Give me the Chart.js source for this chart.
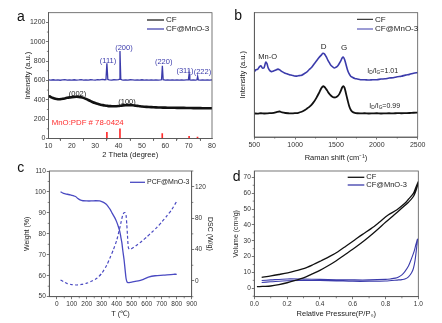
<!DOCTYPE html>
<html>
<head>
<meta charset="utf-8">
<title>CF / CF@MnO-3</title>
<script src="https://cdn.jsdelivr.net/npm/chart.js@4.4.1/dist/chart.umd.min.js"></script>
<style>
  html, body { margin: 0; padding: 0; background: #fff; }
  canvas { position: absolute; left: 0; top: 0; }
</style>
</head>
<body>
<canvas id="xrd" width="442" height="323"></canvas>
<canvas id="raman" width="442" height="323"></canvas>
<canvas id="tga" width="442" height="323"></canvas>
<canvas id="bet" width="442" height="323"></canvas>
<script>
// ---- (a) XRD ----
var xrdMnO = [[10,606],[11,603],[12,607],[13,604],[14,606],[15,602],[16,605],[17,608],[18,603],[19,606],[20,604],[21,607],[22,603],[23,605],[24,608],[25,604],[26,606],[27,603],[28,607],[29,605],[30,604],[31,608],[32,606],[33,610],[34,607],[34.6,609],[35.0,776],[35.4,610],[36,606],[37,604],[38,607],[39,605],[40,608],[40.25,612],[40.6,903],[40.95,612],[41.5,607],[42,604],[43,606],[44,603],[45,607],[46,605],[47,603],[48,606],[49,604],[50,607],[51,603],[52,605],[53,604],[54,606],[55,603],[56,605],[57,604],[58,606],[58.4,608],[58.75,752],[59.1,608],[60,604],[61,606],[62,603],[63,605],[64,604],[65,606],[66,603],[67,605],[68,604],[69,606],[69.9,607],[70.2,668],[70.5,606],[71,604],[72,606],[73,604],[73.55,607],[73.85,642],[74.15,606],[75,603],[76,605],[77,604],[78,606],[79,603],[80,605]];
var xrdCF = [[10,432],[10.5,436],[11,428],[11.5,422],[12,418],[12.5,414],[13,410],[13.5,408],[14,406],[14.5,405],[15,406],[15.5,408],[16,410],[17,414],[18,420],[19,425],[20,428],[21,430],[22,431],[23,430],[24,427],[25,420],[26,410],[27,398],[28,386],[29,375],[30,366],[31,358],[32,351],[33,346],[34,341],[35,338],[36,335],[37,334],[38,333],[39,334],[40,336],[41,339],[42,342],[43,344],[44,345],[45,345],[46,343],[47,340],[48,337],[49,334],[50,331],[52,327],[54,324],[56,322],[58,320],[60,319],[62,318],[64,317],[66,316],[68,316],[70,315],[72,314],[74,314],[76,313],[78,313],[80,312]];
var pdfLines = [[35.0,65],[40.6,100],[58.7,52],[70.2,22],[73.8,15]];
var xrdXTicks = [10,20,30,40,50,60,70,80];
var xrdYTicks = [0,200,400,600,800,1000,1200];
var xrdXMinor = [15,25,35,45,55,65,75];
var xrdYMinor = [100,300,500,700,900,1100];

// ---- (b) Raman ----
var ramanMnO = [[500,52.5],[520,54.1],[540,54.4],[560,56.2],[580,57.3],[600,55.4],[620,55.9],[640,60.2],[655,59.0],[670,55.6],[690,53.4],[710,52.6],[730,52.9],[760,53.7],[790,54.6],[810,54.0],[840,52.6],[870,51.5],[900,50.9],[930,50.1],[960,49.7],[990,49.1],[1020,49.0],[1050,49.4],[1080,49.7],[1110,50.9],[1140,52.1],[1170,54.1],[1200,55.9],[1230,58.6],[1260,61.1],[1290,63.7],[1320,65.9],[1340,67.3],[1360,66.7],[1380,64.6],[1400,61.9],[1420,59.6],[1440,57.5],[1460,56.4],[1480,55.5],[1500,56.1],[1520,57.1],[1540,59.1],[1560,61.4],[1575,63.6],[1590,64.3],[1605,62.4],[1620,58.9],[1640,54.1],[1660,50.9],[1680,48.9],[1700,48.1],[1730,47.1],[1760,46.7],[1800,46.1],[1850,46.1],[1900,45.8],[1950,46.1],[2000,46.1],[2050,46.6],[2100,46.8],[2150,47.4],[2200,47.7],[2250,48.5],[2300,48.9],[2350,49.8],[2400,50.4],[2450,51.3],[2500,51.8]];
var ramanCF = [[500,19.0],[540,18.8],[580,19.1],[620,18.9],[660,19.0],[700,19.2],[740,19.4],[780,20.2],[810,20.5],[840,19.8],[880,19.3],[920,19.1],[960,19.0],[1000,19.2],[1040,19.5],[1080,20.3],[1110,21.3],[1140,22.6],[1170,24.0],[1200,25.8],[1230,28.3],[1260,31.5],[1290,35.2],[1320,39.2],[1340,40.8],[1360,40.2],[1380,38.5],[1400,36.5],[1420,34.6],[1440,33.2],[1460,32.2],[1480,31.8],[1500,32.0],[1520,32.9],[1540,34.5],[1560,37.3],[1575,39.8],[1590,41.0],[1605,39.5],[1620,35.6],[1640,30.2],[1660,25.2],[1680,21.9],[1700,20.3],[1730,19.4],[1760,19.1],[1800,19.0],[1850,19.1],[1900,18.9],[1950,19.0],[2000,19.1],[2050,18.9],[2100,19.0],[2150,19.1],[2200,19.0],[2250,19.2],[2300,19.1],[2350,19.2],[2400,19.3],[2450,19.5],[2500,19.6]];
var ramanXTicks = [500,1000,1500,2000,2500];
var ramanXMinor = [750,1250,1750,2250];

// ---- (c) TGA / DSC ----
var tgaWeight = [[25,100.1],[45,99.3],[70,98.9],[90,98.6],[110,98.2],[125,97.8],[140,96.9],[155,96.2],[175,95.8],[200,95.7],[230,95.7],[260,95.8],[285,95.7],[300,95.4],[315,94.9],[330,94.1],[345,92.8],[356,91.7],[370,89.8],[389,87.4],[400,85.6],[411,83.4],[420,81.2],[427,78.6],[434,75.8],[440,72.3],[449,67.5],[456,62.7],[462,58.8],[468,57.1],[475,56.7],[500,57.0],[544,57.5],[578,58.3],[611,59.3],[656,60.0],[711,60.3],[778,60.7],[800,60.7]];
var tgaDsc = [[25,1.3],[45,-0.8],[67,-3.0],[100,-4.6],[133,-5.1],[165,-4.3],[200,-2.8],[235,0],[267,3.4],[300,9.8],[333,20],[356,30],[378,40],[400,52],[422,69],[440,84],[449,87],[456,87],[462,84],[467,72],[471,60],[478,42],[489,40.3],[510,42.5],[533,45.5],[567,50.5],[600,56],[634,62],[667,68],[700,75],[733,82.5],[767,91],[800,101.5]];
var tgaXTicks = [0,100,200,300,400,500,600,700,800,900];
var weightTicks = [50,60,70,80,90,100,110];
var dscTicks = [0,40,80,120];
var tgaXMinor = [50,150,250,350,450,550,650,750,850];
var weightMinor = [55,65,75,85,95,105];
var dscMinor = [-20,20,60,100,140];

// ---- (d) N2 isotherms ----
var betCF = [[0.016,1.0],[0.05,1.2],[0.1,1.45],[0.15,2.3],[0.2,3.5],[0.25,5.0],[0.3,6.6],[0.35,8.9],[0.4,11.3],[0.45,14.2],[0.5,17.4],[0.55,21.0],[0.6,24.6],[0.65,28.4],[0.7,32.5],[0.75,36.9],[0.8,41.6],[0.85,46.1],[0.9,50.6],[0.94,54.3],[0.97,57.9],[0.99,63.0],[1.0,67.2],
             [0.985,63.6],[0.97,59.9],[0.94,56.2],[0.918,53.6],[0.87,49.6],[0.816,46.2],[0.76,41.5],[0.714,37.8],[0.66,34.0],[0.612,30.5],[0.56,26.7],[0.51,23.1],[0.46,20.1],[0.408,17.4],[0.36,15.0],[0.306,12.6],[0.25,11.0],[0.204,9.8],[0.15,8.7],[0.102,7.8],[0.045,6.9]];
var betMnO = [[0.045,3.7],[0.1,4.1],[0.2,4.8],[0.3,4.9],[0.4,4.9],[0.5,4.7],[0.6,4.4],[0.7,4.4],[0.8,4.6],[0.88,5.3],[0.9,5.5],[0.918,5.8],[0.94,7.2],[0.959,9.8],[0.97,12.5],[0.98,17.5],[0.988,24],[0.995,31],
              [0.985,27.5],[0.975,23.5],[0.959,18.9],[0.94,14.0],[0.918,10.5],[0.9,8.5],[0.88,7.2],[0.86,6.4],[0.83,5.9],[0.8,5.6],[0.7,5.3],[0.6,5.3],[0.5,5.4],[0.4,5.6],[0.3,5.8],[0.2,5.9],[0.1,5.3],[0.045,4.9]];
var betXTicks = [0,0.2,0.4,0.6,0.8,1.0];
var betYTicks = [0,10,20,30,40,50,60,70];
var betXMinor = [0.1,0.3,0.5,0.7,0.9];
var betYMinor = [-5,5,15,25,35,45,55,65];

var FONT = '"Liberation Sans", Arial, sans-serif';
var AXIS = '#555';
var TEXT = '#333';
var BLUE = '#3b3bab';
var BLUE_C = '#4a4ac2';
var BLACK = '#111';
var RED = '#ff2b2b';

Chart.defaults.font.family = FONT;
Chart.defaults.color = TEXT;

function pts(arr) { return arr.map(function (p) { return { x: p[0], y: p[1] }; }); }

// box around the plot area (top and right edges included)
var framePlugin = {
  id: 'frame',
  afterDatasetsDraw: function (chart) {
    var a = chart.chartArea, ctx = chart.ctx;
    ctx.save();
    ctx.strokeStyle = AXIS;
    ctx.lineWidth = 0.8;
    ctx.strokeRect(a.left, a.top, a.right - a.left, a.bottom - a.top);
    ctx.restore();
  }
};

// short unlabelled ticks between the major ones
var minorPlugin = {
  id: 'minor',
  afterDraw: function (chart, args, opts) {
    var ctx = chart.ctx;
    ctx.save();
    ctx.strokeStyle = AXIS;
    ctx.lineWidth = 0.7;
    (opts.list || []).forEach(function (m) {
      var s = chart.scales[m.axis];
      m.values.forEach(function (v) {
        var p = s.getPixelForValue(v);
        ctx.beginPath();
        if (s.position === 'bottom') { ctx.moveTo(p, s.top); ctx.lineTo(p, s.top + 1.6); }
        else if (s.position === 'left') { ctx.moveTo(s.right, p); ctx.lineTo(s.right - 1.6, p); }
        else { ctx.moveTo(s.left, p); ctx.lineTo(s.left + 1.6, p); }
        ctx.stroke();
      });
    });
    ctx.restore();
  }
};

// text labels placed in data coordinates; parts allow sub/superscripts
var notesPlugin = {
  id: 'notes',
  afterDatasetsDraw: function (chart, args, opts) {
    var ctx = chart.ctx;
    (opts.items || []).forEach(function (n) {
      var xs = chart.scales[n.xAxis || 'x'], ys = chart.scales[n.yAxis || 'y'];
      var px = xs.getPixelForValue(n.x), py = ys.getPixelForValue(n.y);
      var parts = n.parts || [{ t: n.text }];
      ctx.save();
      ctx.fillStyle = n.color || '#222';
      ctx.textBaseline = 'middle';
      var w = 0;
      parts.forEach(function (p) {
        ctx.font = (p.size || n.size) + 'px ' + FONT;
        w += ctx.measureText(p.t).width;
      });
      var x = n.align === 'left' ? px : px - w / 2;
      parts.forEach(function (p) {
        ctx.font = (p.size || n.size) + 'px ' + FONT;
        ctx.fillText(p.t, x, py + (p.dy || 0));
        x += ctx.measureText(p.t).width;
      });
      ctx.restore();
    });
  }
};

// line-sample legend
var keyPlugin = {
  id: 'key',
  afterDraw: function (chart, args, opts) {
    if (opts.x === undefined) return;
    var ctx = chart.ctx, y = opts.y;
    chart.data.datasets.forEach(function (ds) {
      if (!ds.label) return;
      ctx.save();
      ctx.strokeStyle = ds.borderColor;
      ctx.lineWidth = opts.lineWidth || 1.2;
      ctx.beginPath();
      ctx.moveTo(opts.x, y);
      ctx.lineTo(opts.x + opts.len, y);
      ctx.stroke();
      ctx.fillStyle = '#222';
      ctx.font = opts.size + 'px ' + FONT;
      ctx.textBaseline = 'middle';
      ctx.fillText(ds.label, opts.x + opts.len + 2, y);
      ctx.restore();
      y += opts.step;
    });
  }
};

// panel letter
var tagPlugin = {
  id: 'tag',
  afterDraw: function (chart, args, opts) {
    if (!opts.text) return;
    var ctx = chart.ctx;
    ctx.save();
    ctx.fillStyle = '#111';
    ctx.font = '14px ' + FONT;
    ctx.textBaseline = 'alphabetic';
    ctx.fillText(opts.text, opts.x, opts.y);
    ctx.restore();
  }
};

function axis(o) {
  return {
    type: 'linear',
    position: o.position,
    min: o.min,
    max: o.max,
    offset: false,
    afterFit: function (s) {
      if (s.isHorizontal()) s.height = o.size; else s.width = o.size;
    },
    afterBuildTicks: function (s) {
      s.ticks = o.ticks.map(function (v) { return { value: v }; });
    },
    border: { color: AXIS, width: 0.8 },
    grid: { display: o.ticks.length > 0, drawOnChartArea: false, tickLength: 2.5, color: AXIS, lineWidth: 0.8 },
    ticks: {
      display: o.ticks.length > 0,
      font: { size: o.font },
      color: TEXT,
      padding: o.pad,
      maxRotation: 0,
      autoSkip: false,
      callback: o.fmt || function (v) { return String(v); }
    },
    title: {
      display: true,
      text: o.title,
      font: { size: o.titleSize || 7.5 },
      color: '#222',
      padding: o.titlePad
    }
  };
}

function base(pad, scales, plugins) {
  return {
    responsive: false,
    animation: false,
    events: [],
    layout: { padding: pad },
    scales: scales,
    plugins: Object.assign({ legend: { display: false }, tooltip: { enabled: false } }, plugins)
  };
}

var plugs = [framePlugin, minorPlugin, notesPlugin, keyPlugin, tagPlugin];

// (a) XRD patterns
new Chart(document.getElementById('xrd'), {
  type: 'scatter',
  data: {
    datasets: [
      { label: 'CF', data: pts(xrdCF), showLine: true, borderColor: BLACK, borderWidth: 2.6, pointRadius: 0, tension: 0.2 },
      { label: 'CF@MnO-3', data: pts(xrdMnO), showLine: true, borderColor: BLUE, borderWidth: 1.3, pointRadius: 0, tension: 0 },
      { type: 'bar', data: pts(pdfLines), backgroundColor: RED, barThickness: 1 }
    ]
  },
  options: base({ left: 0, top: 12.7, right: 230, bottom: 163 }, {
    x: axis({ position: 'bottom', min: 10, max: 80, ticks: xrdXTicks, size: 21.5, font: 7, pad: 1, title: '2 Theta (degree)', titlePad: { top: 0, bottom: 0.5 } }),
    y: axis({ position: 'left', min: 0, max: 1300, ticks: xrdYTicks, size: 48.5, font: 7, pad: 0.5, title: 'Intensity (a.u.)', titlePad: { top: 23.5, bottom: 0 } })
  }, {
    minor: { list: [{ axis: 'x', values: xrdXMinor }, { axis: 'y', values: xrdYMinor }] },
    notes: { items: [
      { text: '(111)', x: 35.5, y: 805, size: 7.5, color: BLUE },
      { text: '(200)', x: 42.3, y: 935, size: 7.5, color: BLUE },
      { text: '(220)', x: 59.3, y: 795, size: 7.5, color: BLUE },
      { text: '(311)', x: 68.4, y: 700, size: 7.5, color: BLUE },
      { text: '(222)', x: 75.9, y: 685, size: 7.5, color: BLUE },
      { text: '(002)', x: 22.4, y: 460, size: 7.5, color: '#222' },
      { text: '(100)', x: 43.6, y: 382, size: 7.5, color: '#222' },
      { text: 'MnO:PDF # 78-0424', x: 11.4, y: 162, size: 7.8, color: RED, align: 'left' }
    ] },
    key: { x: 147, y: 20, len: 17, step: 9, size: 8, lineWidth: 1.2 },
    tag: { text: 'a', x: 17, y: 20.7 }
  }),
  plugins: plugs
});

// (b) Raman spectra
function ratio(value) {
  return [{ t: 'I' }, { t: 'D', size: 4.8, dy: 1.8 }, { t: '/I' }, { t: 'G', size: 4.8, dy: 1.8 }, { t: '=' + value }];
}
new Chart(document.getElementById('raman'), {
  type: 'scatter',
  data: {
    datasets: [
      { label: 'CF', data: pts(ramanCF), showLine: true, borderColor: BLACK, borderWidth: 1.8, pointRadius: 0, tension: 0.3 },
      { label: 'CF@MnO-3', data: pts(ramanMnO), showLine: true, borderColor: BLUE, borderWidth: 1.6, pointRadius: 0, tension: 0.3 }
    ]
  },
  options: base({ left: 221, top: 12.7, right: 24.3, bottom: 160 }, {
    x: axis({ position: 'bottom', min: 500, max: 2500, ticks: ramanXTicks, size: 26, font: 7, pad: 1, title: 'Raman shift (cm\u207B\u00B9)', titlePad: { top: 0, bottom: 0.2 } }),
    y: axis({ position: 'left', min: 0, max: 100, ticks: [], size: 33.3, font: 7, pad: 0, title: 'Intensity (a.u.)', titlePad: { top: 17.5, bottom: 0 } })
  }, {
    minor: { list: [{ axis: 'x', values: ramanXMinor }] },
    notes: { items: [
      { text: 'Mn-O', x: 664, y: 64.4, size: 7.5 },
      { text: 'D', x: 1349, y: 72.6, size: 8 },
      { text: 'G', x: 1598, y: 71.4, size: 8 },
      { parts: ratio('1.01'), x: 1883, y: 53.1, size: 7, align: 'left' },
      { parts: ratio('0.99'), x: 1908, y: 25.2, size: 7, align: 'left' }
    ] },
    key: { x: 357, y: 19.3, len: 16, step: 9.7, size: 8, lineWidth: 1 },
    tag: { text: 'b', x: 234.3, y: 20 }
  }),
  plugins: plugs
});

// (c) TGA weight loss with DSC signal
new Chart(document.getElementById('tga'), {
  type: 'scatter',
  data: {
    datasets: [
      { label: 'PCF@MnO-3', data: pts(tgaWeight), yAxisID: 'y', showLine: true, borderColor: BLUE_C, borderWidth: 1.3, pointRadius: 0, tension: 0.3 },
      { data: pts(tgaDsc), yAxisID: 'y2', showLine: true, borderColor: BLUE_C, borderWidth: 1.2, borderDash: [3, 2.2], pointRadius: 0, tension: 0.25 }
    ]
  },
  options: base({ left: 0, top: 171, right: 221, bottom: 0 }, {
    x: axis({ position: 'bottom', min: -50, max: 900, ticks: tgaXTicks, size: 26.3, font: 6.5, pad: 1, title: 'T (\u2103)', titlePad: { top: 0, bottom: 4.5 } }),
    y: axis({ position: 'left', min: 50, max: 110, ticks: weightTicks, size: 49.3, font: 6.5, pad: 1, title: 'Weight (%)', titleSize: 7, titlePad: { top: 23.1, bottom: 0 } }),
    y2: axis({ position: 'right', min: -20, max: 140, ticks: dscTicks, size: 29.3, font: 6.5, pad: 0.8, title: 'DSC (W/g)', titleSize: 7, titlePad: { top: 6.8, bottom: 0 } })
  }, {
    minor: { list: [{ axis: 'x', values: tgaXMinor }, { axis: 'y', values: weightMinor }, { axis: 'y2', values: dscMinor }] },
    key: { x: 130, y: 182.3, len: 15, step: 9, size: 7, lineWidth: 1.3 },
    tag: { text: 'c', x: 17.3, y: 172.3 }
  }),
  plugins: plugs
});

// (d) N2 adsorption-desorption isotherms
new Chart(document.getElementById('bet'), {
  type: 'scatter',
  data: {
    datasets: [
      { label: 'CF', data: pts(betCF), showLine: true, borderColor: BLACK, borderWidth: 1.3, pointRadius: 0, tension: 0.3 },
      { label: 'CF@MnO-3', data: pts(betMnO), showLine: true, borderColor: BLUE, borderWidth: 1.1, pointRadius: 0, tension: 0.3 }
    ]
  },
  options: base({ left: 221, top: 171, right: 23.7, bottom: 0 }, {
    x: axis({ position: 'bottom', min: 0, max: 1, ticks: betXTicks, size: 26.3, font: 6.5, pad: 1, title: 'Relative Pressure(P/P\u2080)', titlePad: { top: 0, bottom: 4.5 }, fmt: function (v) { return v.toFixed(1); } }),
    y: axis({ position: 'left', min: -5.3, max: 74, ticks: betYTicks, size: 33.3, font: 6.5, pad: 1, title: 'Volume (cm\u00B3/g)', titleSize: 7, titlePad: { top: 10.8, bottom: 0 } })
  }, {
    minor: { list: [{ axis: 'x', values: betXMinor }, { axis: 'y', values: betYMinor }] },
    key: { x: 347.7, y: 177.3, len: 16.6, step: 7.7, size: 7.5, lineWidth: 1.3 },
    tag: { text: 'd', x: 232.7, y: 181 }
  }),
  plugins: plugs
});
</script>
</body>
</html>
